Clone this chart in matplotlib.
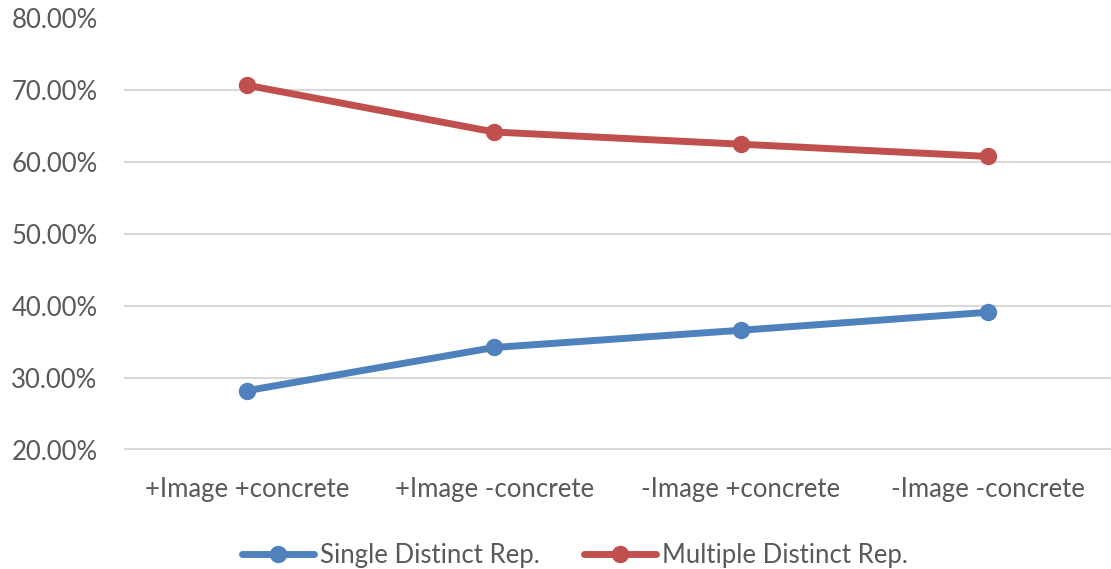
import matplotlib.pyplot as plt
from matplotlib.ticker import FuncFormatter

categories = ["+Image +concrete", "+Image -concrete", "-Image +concrete", "-Image -concrete"]
single = [28.2, 34.2, 36.6, 39.1]
multiple = [70.7, 64.2, 62.5, 60.8]

plt.rcParams["font.family"] = ["Lato", "DejaVu Sans"]
txt = "#595959"
fs = 18.5

fig = plt.figure(figsize=(11.11, 5.69), dpi=100)
ax = fig.add_axes([124 / 1111, 1 - 449.5 / 569, 1 - 124 / 1111, (449.5 - 18.5) / 569])

x = range(len(categories))
ax.plot(x, single, color="#4F81BD", lw=5, marker="o", ms=11.5, label="Single Distinct Rep.",
        solid_capstyle="round", zorder=3)
ax.plot(x, multiple, color="#C0504D", lw=5, marker="o", ms=11.5, label="Multiple Distinct Rep.",
        solid_capstyle="round", zorder=3)

ax.set_xlim(-0.5, 3.5)
ax.set_ylim(20, 80)
ax.set_yticks(range(20, 81, 10))
ax.yaxis.set_major_formatter(FuncFormatter(lambda v, p: f"{v:.2f}%"))
ax.set_xticks(list(x))
ax.set_xticklabels(categories)
ax.grid(axis="y", color="#D9D9D9", lw=1.5)
ax.set_axisbelow(True)
for s in ax.spines.values():
    s.set_visible(False)
ax.tick_params(length=0, labelsize=fs, colors=txt)
ax.tick_params(axis="y", pad=19)
ax.tick_params(axis="x", pad=20)

leg = ax.legend(loc="center", bbox_to_anchor=(0.457, -0.245), ncol=2, frameon=False,
                fontsize=fs, handlelength=2.8, columnspacing=1.7, handletextpad=0.25)
for t in leg.get_texts():
    t.set_color(txt)

fig.savefig("out.png", dpi=100)
